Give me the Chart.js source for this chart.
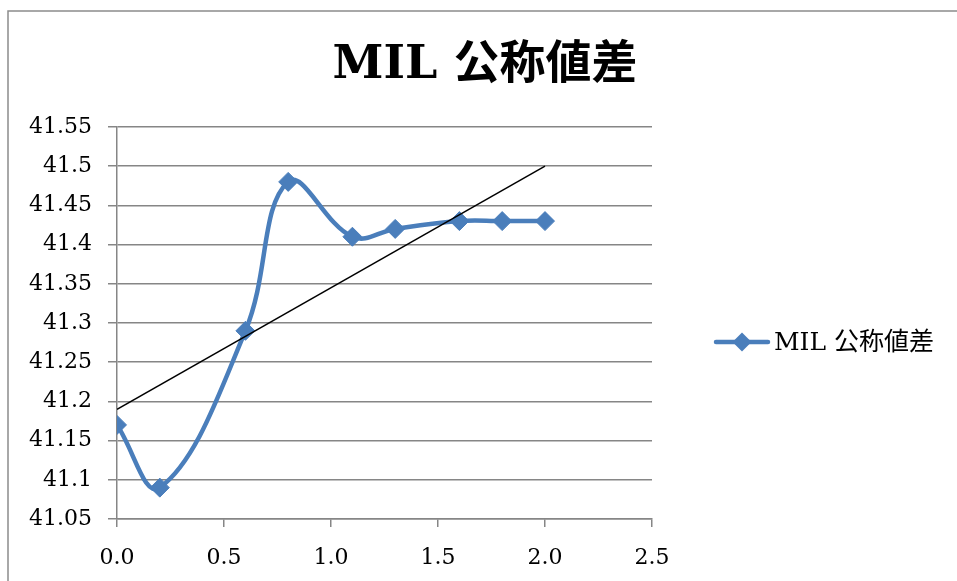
<!DOCTYPE html>
<html>
<head>
<meta charset="utf-8">
<title>MIL 公称値差</title>
<script src="https://cdn.jsdelivr.net/npm/chart.js@4/dist/chart.umd.min.js"></script>
<style>
  html, body { margin: 0; padding: 0; background: #fff; }
  #wrap { width: 957px; height: 581px; }
</style>
</head>
<body>
<div id="wrap"><canvas id="milChart" width="957" height="581"></canvas></div>
<script>
// measured values
const xValues = [0, 0.2, 0.6, 0.8, 1.1, 1.3, 1.6, 1.8, 2.0];
const milValues = [41.17, 41.09, 41.29, 41.48, 41.41, 41.42, 41.43, 41.43, 41.43];

// linear trendline end points
const trendX = [0, 2.0];
const trendY = [41.19, 41.50];

// axis ranges
const xRange = [0, 2.5, 0.5];
const yRange = [41.05, 41.55, 0.05];

const seriesName = "MIL 公称値差";
const blue = "#4A7EBB";
const gridGray = "#868686";
const serif = "'DejaVu Serif', 'Noto Sans CJK JP', serif";

const toPoints = (xs, ys) => xs.map((x, i) => ({ x, y: ys[i] }));

// frame, title and legend drawn by hand
const decorations = {
  id: "decorations",
  afterDraw(chart) {
    const ctx = chart.ctx;
    ctx.save();

    ctx.strokeStyle = "#8c8c8c";
    ctx.lineWidth = 1.5;
    ctx.strokeRect(8, 11, 1000, 1000);

    ctx.fillStyle = "#000";
    ctx.textAlign = "center";
    ctx.textBaseline = "alphabetic";
    ctx.font = "bold 46px " + serif;
    ctx.fillText(seriesName, 485, 78);

    const ly = 342;
    ctx.strokeStyle = blue;
    ctx.lineWidth = 4.5;
    ctx.lineCap = "round";
    ctx.beginPath();
    ctx.moveTo(716, ly);
    ctx.lineTo(768, ly);
    ctx.stroke();
    ctx.fillStyle = blue;
    ctx.beginPath();
    ctx.moveTo(742, ly - 9.5);
    ctx.lineTo(751.5, ly);
    ctx.lineTo(742, ly + 9.5);
    ctx.lineTo(732.5, ly);
    ctx.closePath();
    ctx.fill();

    ctx.fillStyle = "#000";
    ctx.textAlign = "left";
    ctx.textBaseline = "middle";
    ctx.font = "25px " + serif;
    ctx.fillText(seriesName, 774, ly + 1);

    ctx.restore();
  }
};

new Chart(document.getElementById("milChart").getContext("2d"), {
  type: "scatter",
  data: {
    datasets: [
      {
        label: "trend",
        data: toPoints(trendX, trendY),
        showLine: true,
        borderColor: "#000",
        borderWidth: 1.5,
        pointRadius: 0,
        pointHoverRadius: 0,
        order: 0
      },
      {
        label: seriesName,
        data: toPoints(xValues, milValues),
        showLine: true,
        borderColor: blue,
        backgroundColor: blue,
        borderWidth: 4.5,
        tension: 0.4,
        pointStyle: "rectRot",
        pointRadius: 9.5,
        pointBorderWidth: 1,
        pointBackgroundColor: blue,
        pointBorderColor: blue,
        order: 1
      }
    ]
  },
  options: {
    responsive: false,
    animation: false,
    layout: { padding: { top: 127, right: 305, left: 0, bottom: 0 } },
    plugins: {
      legend: { display: false },
      title: { display: false },
      tooltip: { enabled: false }
    },
    scales: {
      x: {
        type: "linear",
        min: xRange[0],
        max: xRange[1],
        afterFit: s => { s.height = 62; },
        ticks: {
          stepSize: xRange[2],
          padding: 18,
          color: "#000",
          font: { family: serif, size: 22 },
          callback: v => Number(v).toFixed(1)
        },
        grid: { drawOnChartArea: false, tickLength: 8, color: gridGray, lineWidth: 1.5 },
        border: { display: true, color: gridGray, width: 1.5 }
      },
      y: {
        type: "linear",
        min: yRange[0],
        max: yRange[1],
        afterFit: s => { s.width = 117; },
        ticks: {
          stepSize: yRange[2],
          padding: 16,
          color: "#000",
          font: { family: serif, size: 22 },
          callback: v => String(parseFloat(Number(v).toFixed(2)))
        },
        grid: { color: gridGray, lineWidth: 1.5, tickLength: 9 },
        border: { display: true, color: gridGray, width: 1.5 }
      }
    }
  },
  plugins: [decorations]
});
</script>
</body>
</html>
